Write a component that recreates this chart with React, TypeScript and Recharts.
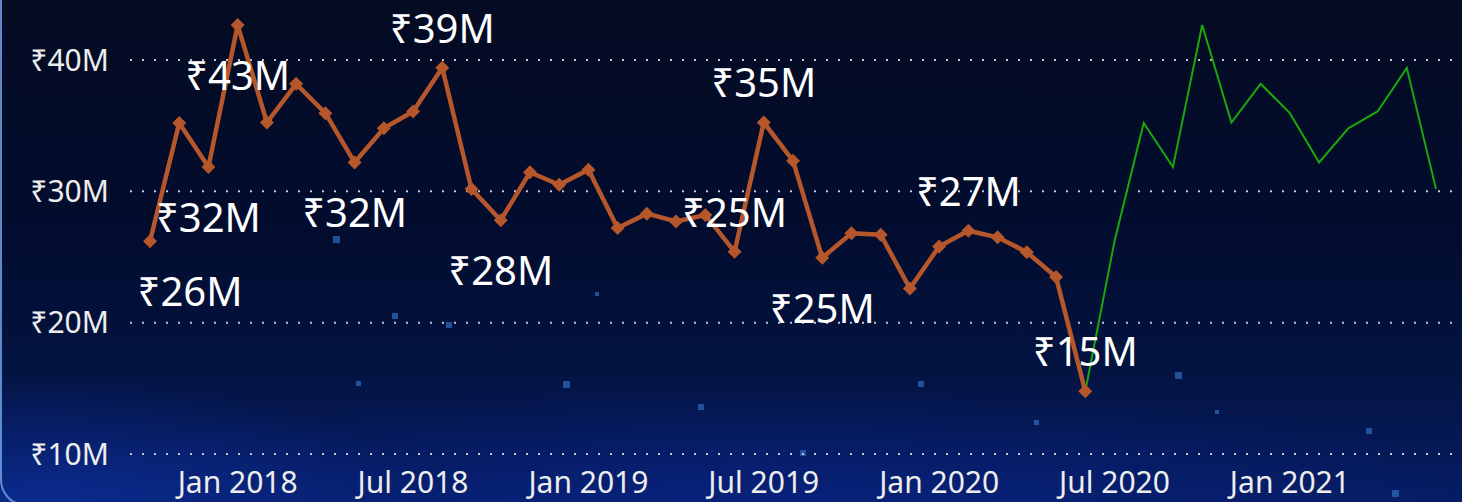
import { LineChart, Line, XAxis, YAxis, CartesianGrid, LabelList } from 'recharts';

// monthly sales, ₹ millions
const months = [
  '2017-10', '2017-11', '2017-12',
  '2018-01', '2018-02', '2018-03', '2018-04', '2018-05', '2018-06',
  '2018-07', '2018-08', '2018-09', '2018-10', '2018-11', '2018-12',
  '2019-01', '2019-02', '2019-03', '2019-04', '2019-05', '2019-06',
  '2019-07', '2019-08', '2019-09', '2019-10', '2019-11', '2019-12',
  '2020-01', '2020-02', '2020-03', '2020-04', '2020-05', '2020-06',
  '2020-07', '2020-08', '2020-09', '2020-10', '2020-11', '2020-12',
  '2021-01', '2021-02', '2021-03', '2021-04', '2021-05', '2021-06',
];

const actual = [
  26.2, 35.2, 31.85, 42.66, 35.24, 38.18, 35.95, 32.2, 34.8, 36.08, 39.4,
  30.18, 27.8, 31.45, 30.5, 31.65, 27.2, 28.3, 27.7, 28.2, 25.4, 35.24,
  32.33, 24.94, 26.8, 26.7, 22.6, 25.8, 27.0, 26.5, 25.37, 23.47, 14.77,
];

// forecast starts at the last actual month (Jun 2020)
const forecast = [
  14.77, 26.2, 35.2, 31.85, 42.66, 35.24, 38.18, 35.95, 32.2, 34.8, 36.08,
  39.4, 30.18,
];

const yTicks = [10, 20, 30, 40];

// which points get a data label, and where
const LABEL_POS: Record<number, 'above' | 'below'> = {
  0: 'below', 2: 'below', 3: 'below', 7: 'below', 10: 'above', 12: 'below',
  20: 'above', 21: 'above', 23: 'below', 28: 'above', 32: 'above',
};

const ORANGE = '#B5572A';
const GREEN = '#19A80C';
const FONT = "'Noto Sans', 'DejaVu Sans', sans-serif";

const forecastStart = actual.length - 1;
const chartData = months.map((m, i) => ({
  month: m,
  actual: i < actual.length ? actual[i] : null,
  forecast: i >= forecastStart ? forecast[i - forecastStart] : null,
}));

const stars = [
  [333, 236, 7], [392, 313, 6], [446, 322, 6], [356, 381, 5], [563, 381, 7],
  [698, 404, 6], [918, 381, 6], [1175, 372, 7], [800, 450, 6], [1366, 428, 6],
  [1392, 490, 7], [595, 292, 4], [1034, 420, 5], [1215, 410, 4],
];

const monthLabel = (m: string) => {
  const [y, mo] = m.split('-');
  if (mo === '01') return `Jan ${y}`;
  if (mo === '07') return `Jul ${y}`;
  return '';
};

function Diamond(props: any) {
  const { cx, cy, index } = props;
  if (cx == null || cy == null || props.value == null) return <g key={`d-${index}`} />;
  const r = 7;
  return (
    <polygon
      key={`d-${index}`}
      points={`${cx},${cy - r} ${cx + r},${cy} ${cx},${cy + r} ${cx - r},${cy}`}
      fill={ORANGE}
    />
  );
}

function ValueLabel(props: any) {
  const { x, y, value, index } = props;
  const pos = LABEL_POS[index];
  if (!pos || value == null) return null;
  const cx = Math.max(x, 190);
  const base = pos === 'above' ? y - 25 : y + 65;
  return (
    <text
      x={cx}
      y={base}
      textAnchor="middle"
      fill="#FFFFFF"
      fontSize={40}
      fontFamily={FONT}
    >
      {`₹${Math.round(value)}M`}
    </text>
  );
}

export default function App() {
  return (
    <div
      style={{
        position: 'absolute',
        left: 0,
        top: 0,
        width: 1462,
        height: 502,
        overflow: 'hidden',
        background:
          'radial-gradient(ellipse 380px 130px at 40px 505px, rgba(14,52,170,0.6), rgba(14,52,170,0) 100%),' +
          'radial-gradient(ellipse 800px 130px at 750px 515px, rgba(10,40,150,0.55), rgba(10,40,150,0) 100%),' +
          'linear-gradient(180deg, #040B22 0%, #020C2E 45%, #031340 72%, #061C62 100%)',
      }}
    >
      <div
        style={{
          position: 'absolute',
          left: 0,
          top: -30,
          width: 1520,
          height: 536,
          borderLeft: '2px solid rgba(110,160,225,0.85)',
          borderBottom: '2px solid rgba(110,160,225,0.85)',
          borderBottomLeftRadius: 26,
          boxSizing: 'border-box',
        }}
      />
      {stars.map(([x, y, s], i) => (
        <div
          key={i}
          style={{
            position: 'absolute',
            left: x,
            top: y,
            width: s,
            height: s,
            background: '#2A62AE',
            opacity: 0.8,
          }}
        />
      ))}
      <div style={{ position: 'absolute', left: 0, top: 0 }}>
        <LineChart
          width={1462}
          height={502}
          data={chartData}
          margin={{ top: 14, right: 7, left: 0, bottom: 0 }}
        >
          <CartesianGrid
            vertical={false}
            horizontalValues={yTicks}
            stroke="#C4C8D2"
            strokeWidth={2}
            strokeDasharray="2 10"
          />
          <XAxis
            dataKey="month"
            axisLine={false}
            tickLine={false}
            interval={0}
            height={48}
            tickMargin={12}
            padding={{ left: 20, right: 19 }}
            tickFormatter={monthLabel}
            tick={{ fill: '#EDEDED', fontSize: 30, fontFamily: FONT }}
          />
          <YAxis
            domain={[10, 43.5]}
            ticks={yTicks}
            axisLine={false}
            tickLine={false}
            width={130}
            tickMargin={15}
            tickFormatter={(v: number) => `₹${v}M`}
            tick={{ fill: '#EDEDED', fontSize: 30, fontFamily: FONT }}
          />
          <Line
            dataKey="forecast"
            stroke={GREEN}
            strokeWidth={2}
            dot={false}
            activeDot={false}
            connectNulls={false}
            isAnimationActive={false}
          />
          <Line
            dataKey="actual"
            stroke={ORANGE}
            strokeWidth={4.5}
            dot={Diamond}
            activeDot={false}
            connectNulls={false}
            isAnimationActive={false}
          >
            <LabelList dataKey="actual" content={ValueLabel} />
          </Line>
        </LineChart>
      </div>
    </div>
  );
}
